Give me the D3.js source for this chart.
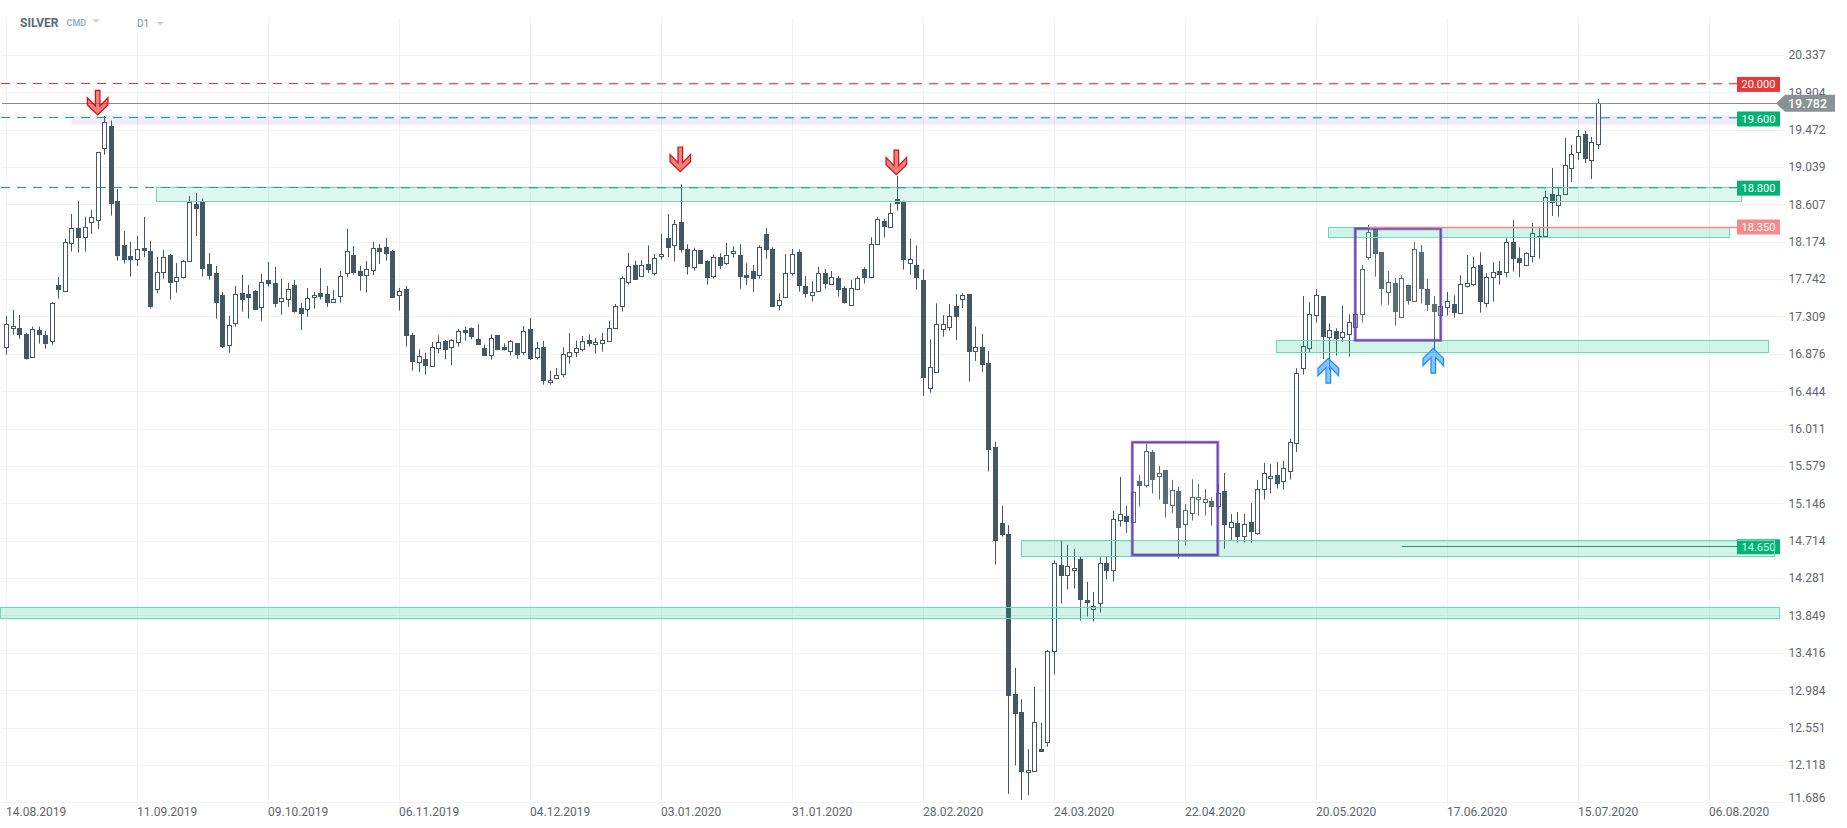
<!DOCTYPE html>
<html><head><meta charset="utf-8">
<script src="https://cdn.jsdelivr.net/npm/d3@7"></script>
<style>html,body{margin:0;padding:0;background:#fff}svg{display:block}text{font-family:Roboto,sans-serif}</style>
</head><body><svg id="c" width="1847" height="828"></svg>
<script>
const opens=[16.958,17.178,17.178,17.105,16.842,17.147,17.089,17.027,17.668,17.606,
18.162,18.328,18.231,18.405,18.428,19.260,19.508,18.651,18.131,18.003,
17.977,18.107,18.061,17.629,17.826,18.026,17.719,17.769,17.954,18.605,
18.628,17.919,17.815,17.552,16.981,17.236,17.575,17.564,17.599,17.421,
17.726,17.699,17.487,17.514,17.668,17.410,17.398,17.537,17.575,17.564,
17.479,17.549,17.815,18.023,17.838,17.792,17.849,18.104,18.115,18.069,
17.560,17.622,17.097,16.785,16.819,16.735,16.946,17.027,16.958,17.016,
17.155,17.178,17.051,16.946,16.865,17.089,16.958,16.912,17.004,16.900,
17.167,16.842,16.958,16.554,16.600,16.646,16.854,16.900,16.935,17.039,
16.989,17.004,17.027,17.178,17.433,17.711,17.907,17.780,17.919,17.811,
18.007,18.219,18.138,18.405,18.092,17.884,18.081,17.954,17.780,17.999,
17.926,18.046,18.023,17.792,17.838,17.788,18.266,18.092,17.444,17.533,
17.811,18.058,17.664,17.560,17.602,17.815,17.684,17.757,17.641,17.444,
17.629,17.861,17.769,18.150,18.416,18.347,18.671,18.644,17.930,17.907,
17.734,16.484,16.669,17.167,17.189,17.433,17.514,17.564,16.908,16.958,
16.773,15.794,14.922,14.795,12.943,12.735,12.042,12.053,12.308,12.389,
13.442,14.436,14.321,14.375,14.506,14.031,13.927,13.993,14.460,14.379,
14.953,15.003,14.934,15.401,15.363,15.737,15.462,15.528,15.130,15.285,
14.911,15.038,15.200,15.165,15.177,15.115,15.293,14.876,14.922,14.768,
14.934,14.803,15.316,15.439,15.478,15.408,15.524,15.844,16.712,16.943,
17.325,17.541,17.070,17.143,17.070,17.105,17.189,17.340,17.996,18.316,
18.050,17.595,17.699,17.302,17.676,17.491,18.058,17.629,17.456,17.329,
17.421,17.456,17.352,17.664,17.687,17.907,17.467,17.769,17.838,17.826,
18.173,17.980,17.907,18.011,18.239,18.242,18.721,18.601,18.732,19.026,
19.214,19.426,19.122,19.307];
const closes=[17.224,17.201,17.105,16.827,17.167,17.105,17.000,17.467,17.625,18.173,
18.335,18.227,18.347,18.462,19.214,19.561,18.621,18.026,17.973,17.973,
18.092,18.076,17.429,17.826,17.999,17.707,17.769,17.954,18.636,18.559,
17.869,17.788,17.475,16.966,17.213,17.571,17.510,17.533,17.394,17.711,
17.695,17.464,17.525,17.629,17.371,17.348,17.525,17.560,17.545,17.475,
17.514,17.780,18.069,17.822,17.792,17.861,18.104,18.065,18.042,17.533,
17.606,17.097,16.792,16.854,16.746,16.954,17.016,16.935,17.035,17.143,
17.128,17.081,16.989,16.862,17.062,16.931,16.927,17.027,16.873,17.143,
16.827,16.943,16.573,16.573,16.631,16.873,16.896,16.943,17.023,17.000,
17.012,17.035,17.174,17.433,17.753,17.892,17.741,17.907,17.857,17.984,
18.034,18.111,18.378,18.088,17.892,18.076,17.926,17.765,17.996,17.903,
18.019,18.069,17.776,17.765,17.753,18.115,18.088,17.429,17.498,17.811,
18.030,17.672,17.579,17.591,17.811,17.695,17.769,17.625,17.475,17.637,
17.753,17.765,18.146,18.439,18.354,18.505,18.621,17.973,17.973,17.765,
16.608,16.727,17.220,17.220,17.317,17.313,17.556,16.908,16.958,16.758,
15.775,14.722,14.788,12.928,12.720,12.049,12.065,12.616,12.280,13.442,
14.456,14.317,14.425,14.402,14.039,14.004,13.958,14.460,14.375,14.969,
15.026,14.942,15.281,15.359,15.756,15.428,15.501,15.150,15.304,14.872,
15.073,15.223,15.223,15.200,15.115,15.269,14.907,14.934,14.768,14.911,
14.826,15.316,15.501,15.466,15.381,15.559,15.859,16.658,16.970,17.340,
17.560,17.081,17.155,17.058,17.128,17.244,17.340,17.861,18.289,18.042,
17.637,17.711,17.371,17.757,17.498,18.092,17.637,17.452,17.371,17.433,
17.491,17.359,17.684,17.699,17.884,17.487,17.769,17.826,17.799,18.173,
17.984,17.942,18.046,18.277,18.223,18.694,18.636,18.717,19.064,19.191,
19.400,19.141,19.331,19.782];
const highs=[17.321,17.390,17.332,17.128,17.198,17.198,17.147,17.483,17.772,18.212,
18.501,18.651,18.470,18.547,19.214,19.635,19.581,18.790,18.304,18.177,
18.246,18.466,18.188,18.003,18.084,18.038,17.934,17.969,18.709,18.744,
18.682,18.050,17.899,17.599,17.321,17.668,17.796,17.680,17.622,17.807,
17.946,17.888,17.749,17.703,17.738,17.471,17.645,17.599,17.877,17.668,
17.622,17.841,18.328,18.131,17.899,17.957,18.177,18.154,18.223,18.084,
17.645,17.668,17.124,16.935,16.896,17.020,17.097,17.043,17.051,17.170,
17.197,17.189,17.224,16.989,17.108,17.089,17.004,17.043,17.004,17.205,
17.298,17.020,17.031,16.685,16.720,16.958,17.124,17.035,17.089,17.108,
17.062,17.124,17.263,17.460,17.780,18.050,17.961,17.965,18.138,18.038,
18.269,18.501,18.432,18.844,18.150,18.111,18.084,17.965,18.034,18.046,
18.165,18.127,18.154,17.930,17.911,18.138,18.339,18.115,17.583,18.038,
18.096,18.092,17.784,17.722,17.888,17.865,17.841,17.784,17.668,17.738,
17.784,17.884,18.231,18.462,18.443,18.625,18.941,18.655,18.212,18.138,
17.861,17.051,17.467,17.329,17.460,17.575,17.583,17.564,17.198,17.112,
16.916,15.864,15.123,14.899,13.249,12.886,12.308,13.029,12.612,13.457,
14.494,14.718,14.672,14.626,14.537,14.244,14.128,14.529,14.537,15.065,
15.458,15.123,15.289,15.482,15.841,15.771,15.586,15.539,15.424,15.343,
15.146,15.431,15.377,15.320,15.223,15.377,15.505,15.030,15.053,15.030,
15.157,15.424,15.620,15.609,15.632,15.644,15.898,16.716,17.552,17.483,
17.633,17.545,17.236,17.178,17.437,17.340,17.340,17.911,18.374,18.355,
18.058,17.841,17.761,17.792,17.684,18.177,18.142,17.749,17.552,17.517,
17.599,17.560,17.792,18.026,18.003,18.058,17.815,17.942,17.957,18.219,
18.432,18.115,18.058,18.397,18.355,18.767,19.033,18.798,19.380,19.299,
19.473,19.461,19.392,19.831];
const lows=[16.873,17.105,17.058,16.815,16.835,17.000,16.943,16.989,17.521,17.602,
18.065,18.054,18.065,18.269,18.328,19.187,18.482,17.961,17.926,17.776,
17.899,18.003,17.406,17.583,17.753,17.510,17.591,17.753,17.950,18.246,
17.776,17.741,17.290,16.951,16.896,17.197,17.371,17.290,17.390,17.267,
17.660,17.417,17.336,17.425,17.359,17.159,17.313,17.406,17.510,17.425,
17.475,17.475,17.769,17.799,17.614,17.591,17.792,17.923,17.961,17.529,
17.383,16.966,16.689,16.669,16.642,16.735,16.889,16.819,16.750,16.966,
17.035,17.051,16.985,16.858,16.815,16.927,16.919,16.862,16.827,16.873,
16.812,16.815,16.526,16.526,16.589,16.612,16.769,16.846,16.908,16.966,
16.885,16.908,17.023,17.174,17.371,17.684,17.738,17.776,17.818,17.788,
17.973,18.003,17.950,18.054,17.799,17.845,17.923,17.684,17.753,17.865,
17.907,17.996,17.637,17.680,17.599,17.753,17.984,17.425,17.383,17.529,
17.788,17.602,17.533,17.487,17.599,17.637,17.680,17.545,17.464,17.440,
17.625,17.695,17.757,18.146,18.227,18.343,18.540,17.857,17.796,17.625,
16.395,16.434,16.665,17.081,17.151,17.043,17.413,16.561,16.800,16.673,
15.520,14.444,14.768,11.791,12.118,11.721,11.771,12.049,12.277,12.339,
13.171,13.993,14.155,14.167,13.796,13.843,13.784,13.889,14.271,14.248,
14.884,14.811,14.930,15.115,15.335,15.266,15.196,14.988,15.045,14.514,
14.664,14.953,15.011,15.011,14.895,15.077,14.626,14.730,14.699,14.699,
14.699,14.788,15.196,15.266,15.324,15.312,15.428,15.748,16.642,16.904,
17.244,16.823,16.696,16.862,17.020,16.850,17.186,17.244,17.973,17.776,
17.452,17.452,17.209,17.298,17.452,17.487,17.464,17.379,16.939,17.325,
17.325,17.302,17.348,17.649,17.664,17.359,17.421,17.487,17.684,17.769,
17.834,17.769,17.903,17.942,17.984,18.239,18.478,18.470,18.721,18.871,
19.126,19.091,18.906,19.253];

const priceTicks=[20.337,19.904,19.472,19.039,18.607,18.174,17.742,17.309,16.876,16.444,16.011,15.579,15.146,14.714,14.281,13.849,13.416,12.984,12.551,12.118,11.686];
const dateLabels=["14.08.2019","11.09.2019","09.10.2019","06.11.2019","04.12.2019","03.01.2020","31.01.2020","28.02.2020","24.03.2020","22.04.2020","20.05.2020","17.06.2020","15.07.2020","06.08.2020"];
const barsPerLabel=20;
const lastPrice=19.782;

// annotations, in bar index and price
const zoneStart=[9.85,22.82,201.76,193.86,154.93,-1];
const zoneEnd=[264.2,264.8,262.93,268.9,269.95,270.6];
const zoneHigh=[19.643,18.810,18.347,17.039,14.725,13.950];
const zoneLow=[19.534,18.643,18.227,16.896,14.540,13.819];
const zoneKind=["purple","light","mid","mid","mid","mid"];
const boxStart=[171.88,205.92];
const boxEnd=[184.92,218.96];
const boxHigh=[15.859,18.331];
const boxLow=[14.555,17.039];
const levelPrice=[20.000,19.600,18.800,18.350,14.650];
const levelStart=[-0.84,-0.84,-0.84,207.9,213.05];
const levelFadeBar=48;
const levelDash=["9 7","9 7","9 7",null,null];
const levelColor=["#e53935","#00b37a","#00b37a","#f58a8a","#1a9a70"];
const downArrowBar=[13.92,102.87,135.85];
const downArrowPrice=[19.646,18.99,18.955];
const upArrowBar=[201.8,217.83];
const upArrowPrice=[16.83,16.945];

const svg=d3.select("#c");
const x=d3.scaleLinear().domain([0,243]).range([6.5,6.5+243*6.55]);
const y=d3.scaleLinear().domain([20.337,11.686]).range([55.3,802.9]);
const px=v=>Math.floor(x(v))+.5;
const py=v=>Math.floor(y(v))+.5;
const levelEnd=x(264.2);
const dateTicks=dateLabels.map((d,i)=>i*barsPerLabel);

// grid
const grid=svg.append("g").attr("stroke","#f1f2f3").attr("stroke-width",1);
priceTicks.forEach(v=>grid.append("line").attr("x1",2).attr("x2",1785).attr("y1",py(v)).attr("y2",py(v)));
dateTicks.forEach(v=>grid.append("line").attr("x1",px(v)).attr("x2",px(v)).attr("y1",v===20?32:18).attr("y2",806));

// candles
const data=opens.map((o,i)=>({i,o,c:closes[i],h:highs[i],l:lows[i]}));
const dark="#445863";
const g=svg.append("g").selectAll("g").data(data).join("g");
g.append("line").attr("x1",d=>px(d.i)).attr("x2",d=>px(d.i)).attr("y1",d=>y(d.h)).attr("y2",d=>y(d.l)).attr("stroke",dark).attr("stroke-width",1);
g.append("rect").attr("x",d=>px(d.i)-2).attr("width",4)
 .attr("y",d=>py(Math.max(d.o,d.c))).attr("height",d=>Math.max(1,py(Math.min(d.o,d.c))-py(Math.max(d.o,d.c))))
 .attr("fill",d=>d.c>=d.o?"#fff":dark).attr("stroke",dark).attr("stroke-width",1);

// level tags
const tagColor=["#e53935","#00b373","#00b373","#f58a8a","#00b373"];
const tag=i=>{
 const p=levelPrice[i], cy=y(p);
 svg.append("rect").attr("x",1737).attr("y",cy-7.5).attr("width",43).attr("height",15).attr("fill",tagColor[i]);
 svg.append("text").attr("x",1758.5).attr("y",cy).attr("dy","0.36em").attr("text-anchor","middle").attr("font-size",11).attr("fill","#fff").text(d3.format(".3f")(p));
};
tag(4);

// zones
const zoneFill={purple:"rgba(110,70,190,0.11)",light:"rgba(0,190,130,0.12)",mid:"rgba(0,190,130,0.18)"};
const zoneStroke={purple:"none",light:"#72d8b5",mid:"#66dcb6"};
svg.append("g").selectAll("rect").data(zoneStart).join("rect")
 .attr("x",(d,i)=>Math.round(x(d))+.5).attr("width",(d,i)=>Math.round(x(zoneEnd[i])-x(d)))
 .attr("y",(d,i)=>Math.round(y(zoneHigh[i]))+.5).attr("height",(d,i)=>Math.round(y(zoneLow[i])-y(zoneHigh[i])))
 .attr("fill",(d,i)=>zoneFill[zoneKind[i]]).attr("stroke",(d,i)=>zoneStroke[zoneKind[i]]).attr("stroke-width",1);

// boxes
boxStart.forEach((s,i)=>{
 const a=x(s),b=x(boxEnd[i]),t=y(boxHigh[i]),h=y(boxLow[i])-t;
 svg.append("rect").attr("x",a).attr("y",t).attr("width",b-a).attr("height",h).attr("fill","rgba(255,255,255,0.12)").attr("stroke","rgba(107,70,184,0.45)").attr("stroke-width",3.4);
 svg.append("rect").attr("x",a).attr("y",t).attr("width",b-a).attr("height",h).attr("fill","none").attr("stroke","#6a46b6").attr("stroke-width",1.8);
});

// levels: row just above the tag centre, softened to the right of the fade bar
levelPrice.forEach((p,i)=>{
 const ly=py(p)-1, x0=x(levelStart[i]), xf=x(levelFadeBar);
 const seg=(a,b,yy,op)=>svg.append("line").attr("x1",a).attr("x2",b).attr("y1",yy).attr("y2",yy)
  .attr("stroke",levelColor[i]).attr("stroke-opacity",op).attr("stroke-width",i===3?1.4:1).attr("stroke-dasharray",levelDash[i]);
 if(levelDash[i]){
  seg(x0,xf,ly,1);
  seg(xf,levelEnd,ly,.85);
  seg(xf,levelEnd,ly+1,.32);
 } else seg(x0,levelEnd,ly+1,1);
});
svg.append("line").attr("x1",2).attr("x2",1777).attr("y1",Math.round(y(lastPrice))+.5).attr("y2",Math.round(y(lastPrice))+.5).attr("stroke","#868e92").attr("stroke-width",1);

// arrows
const arrowPts=s=>[[-2.3,-24.7],[2.3,-24.7],[2.3,-9],[10.3,-17.3],[10.3,-10],[0,0],[-10.3,-10],[-10.3,-17.3],[-2.3,-9]].map(p=>[p[0],p[1]*s]);
const arrow=(bar,price,s,fill,stroke)=>svg.append("polygon")
 .attr("points",arrowPts(s).map(p=>[x(bar)+p[0],y(price)+p[1]].join(",")).join(" "))
 .attr("fill",fill).attr("stroke",stroke).attr("stroke-width",1.2);
downArrowBar.forEach((b,i)=>arrow(b,downArrowPrice[i],1,"rgba(226,60,60,0.65)","#d40f0f"));
upArrowBar.forEach((b,i)=>arrow(b,upArrowPrice[i],-1,"rgba(70,165,250,0.65)","#1a8cf5"));

// price axis
const yAxis=svg.append("g").attr("transform","translate(1788.5,0)")
 .call(d3.axisRight(y).tickValues(priceTicks).tickFormat(d3.format(".3f")).tickSize(0).tickPadding(0));
yAxis.select(".domain").remove();
yAxis.selectAll("text").attr("font-size",12).attr("fill","#5f666b").style("font-family","Roboto,sans-serif");
yAxis.selectAll(".tick").attr("transform",d=>`translate(0,${Math.min(y(d),798)})`);

// date axis
const xAxis=svg.append("g").attr("transform","translate(-1,807)")
 .call(d3.axisBottom(x).tickValues(dateTicks).tickFormat((d,i)=>dateLabels[i]).tickSize(0).tickPadding(0));
xAxis.select(".domain").remove();
xAxis.selectAll("text").attr("text-anchor","start").attr("font-size",12).attr("y",0).attr("dy","0.71em").attr("fill","#5f666b").style("font-family","Roboto,sans-serif");

// remaining level tags
[0,1,2,3].forEach(tag);

// last price tag
const ly=y(lastPrice);
svg.append("polygon").attr("points",[[1776,ly],[1785,ly-8.5],[1835,ly-8.5],[1835,ly+8.5],[1785,ly+8.5]].map(p=>p.join(",")).join(" ")).attr("fill","#899295");
svg.append("text").attr("x",1788).attr("y",ly).attr("dy","0.36em").attr("font-size",12.5).attr("font-weight",500).attr("fill","#fff").text(d3.format(".3f")(lastPrice));

// header
svg.append("text").attr("x",20).attr("y",26.5).attr("font-size",12).attr("font-weight",700).attr("fill","#5c6b74").text("SILVER");
svg.append("text").attr("x",66.5).attr("y",26).attr("font-size",9).attr("font-weight",700).attr("fill","#9fb0bb").text("CMD");
svg.append("text").attr("x",137).attr("y",26.5).attr("font-size",10).attr("fill","#7f8f99").text("D1");
svg.append("polygon").attr("points","92.3,19.3 99.7,19.3 96,22.4").attr("fill","#c5ccd1");
svg.append("polygon").attr("points","156.7,22 163.7,22 160.2,25.2").attr("fill","#c5ccd1");
</script></body></html>
